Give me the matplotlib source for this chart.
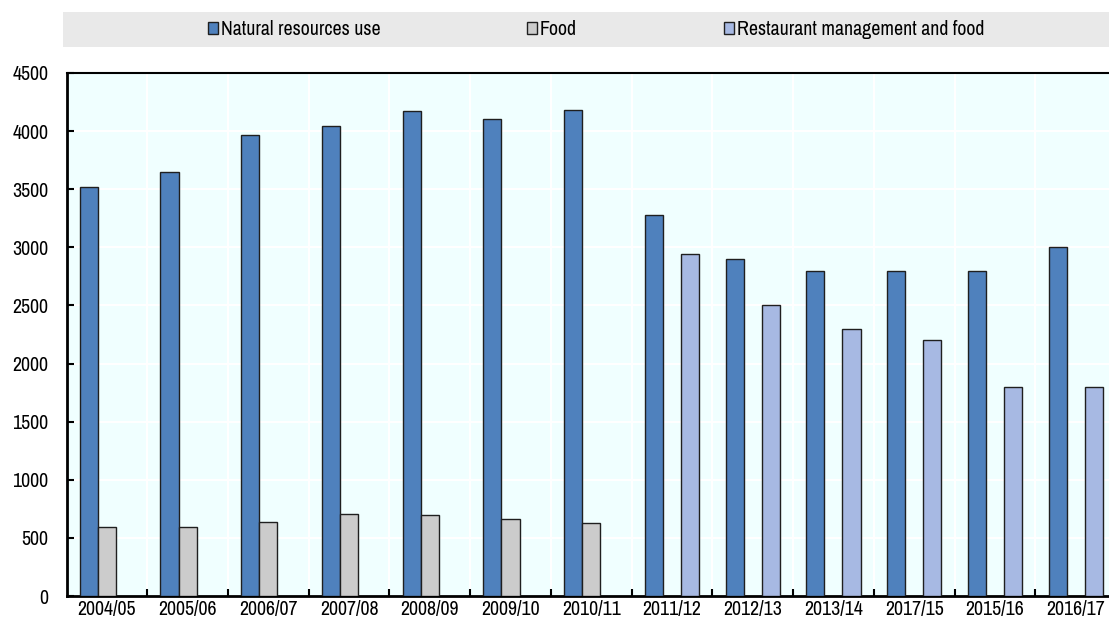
import matplotlib
matplotlib.use("Agg")
import matplotlib.pyplot as plt
import numpy as np
from matplotlib.patches import Rectangle, Patch

plt.rcParams['font.family'] = ['Archivo Narrow', 'Liberation Sans', 'DejaVu Sans']

years = ["2004/05", "2005/06", "2006/07", "2007/08", "2008/09", "2009/10", "2010/11",
         "2011/12", "2012/13", "2013/14", "2017/15", "2015/16", "2016/17"]
natural_resources = [3520, 3650, 3965, 4040, 4170, 4100, 4180,
                     3280, 2900, 2800, 2800, 2800, 3000]
food = [590, 595, 635, 705, 695, 665, 630,
        None, None, None, None, None, None]
restaurant_food = [None, None, None, None, None, None, None,
                   2940, 2500, 2300, 2200, 1800, 1800]
series_names = ["Natural resources use", "Food", "Restaurant management and food"]
series_colors = ["#4f81bd", "#cccccc", "#a7b9e3"]
y_ticks = [0, 500, 1000, 1500, 2000, 2500, 3000, 3500, 4000, 4500]

W, H = 1109, 617
FS = 14.3
fig = plt.figure(figsize=(W / 100, H / 100), dpi=100)
ax = fig.add_axes([66.5 / W, 1 - 596 / H, (1116 - 66.5) / W, (596 - 73) / H])
ax.set_facecolor("#f0ffff")

x = np.arange(len(years))
bw = 0.224
offsets = [-bw, 0.0, bw]
for vals, off, col in zip([natural_resources, food, restaurant_food], offsets, series_colors):
    xs = [xi + off for xi, v in zip(x, vals) if v is not None]
    hs = [v for v in vals if v is not None]
    ax.bar(xs, hs, width=bw, color=col, edgecolor="#1f1f1f", linewidth=1.0, zorder=3)

ax.set_xlim(-0.5, len(years) - 0.5)
ax.set_ylim(0, 4500)
ax.set_yticks(y_ticks)
ax.set_yticklabels([str(t) for t in y_ticks])
ax.set_xticks(x)
ax.set_xticklabels(years)
ax.set_xticks(np.arange(0.5, len(years) - 0.5, 1.0), minor=True)

ax.tick_params(axis="x", which="major", length=0, pad=3, labelsize=FS, colors="black")
ax.tick_params(axis="x", which="minor", direction="in", length=5, width=1.5, color="black")
ax.tick_params(axis="y", which="major", direction="in", length=5, width=1.5, pad=13,
               labelsize=FS, colors="black")

for yv in y_ticks[1:]:
    ax.axhline(yv, color="white", linewidth=1.5, zorder=1)
for xv in np.arange(0.5, len(years) - 0.5, 1.0):
    ax.axvline(xv, color="white", linewidth=1.5, zorder=1)

for side in ["left", "bottom"]:
    ax.spines[side].set_linewidth(2.0)
    ax.spines[side].set_color("black")
ax.spines["top"].set_linewidth(1.5)
ax.spines["top"].set_color("black")
ax.spines["right"].set_visible(False)

# legend band across the top
fig.patches.append(Rectangle((63 / W, 1 - 47 / H), (W - 63) / W, 35 / H,
                             transform=fig.transFigure, facecolor="#e9e9e9",
                             edgecolor="none", zorder=0))
handles = [Patch(facecolor=c, edgecolor="#1f1f1f", linewidth=1.0) for c in series_colors]
fig.legend(handles, series_names, loc="center", bbox_to_anchor=(596 / W, 1 - 29.5 / H),
           ncol=3, frameon=False, fontsize=FS, handlelength=0.5, handleheight=0.5,
           handletextpad=0.15, columnspacing=7.4)

fig.savefig("out.png", dpi=100)
